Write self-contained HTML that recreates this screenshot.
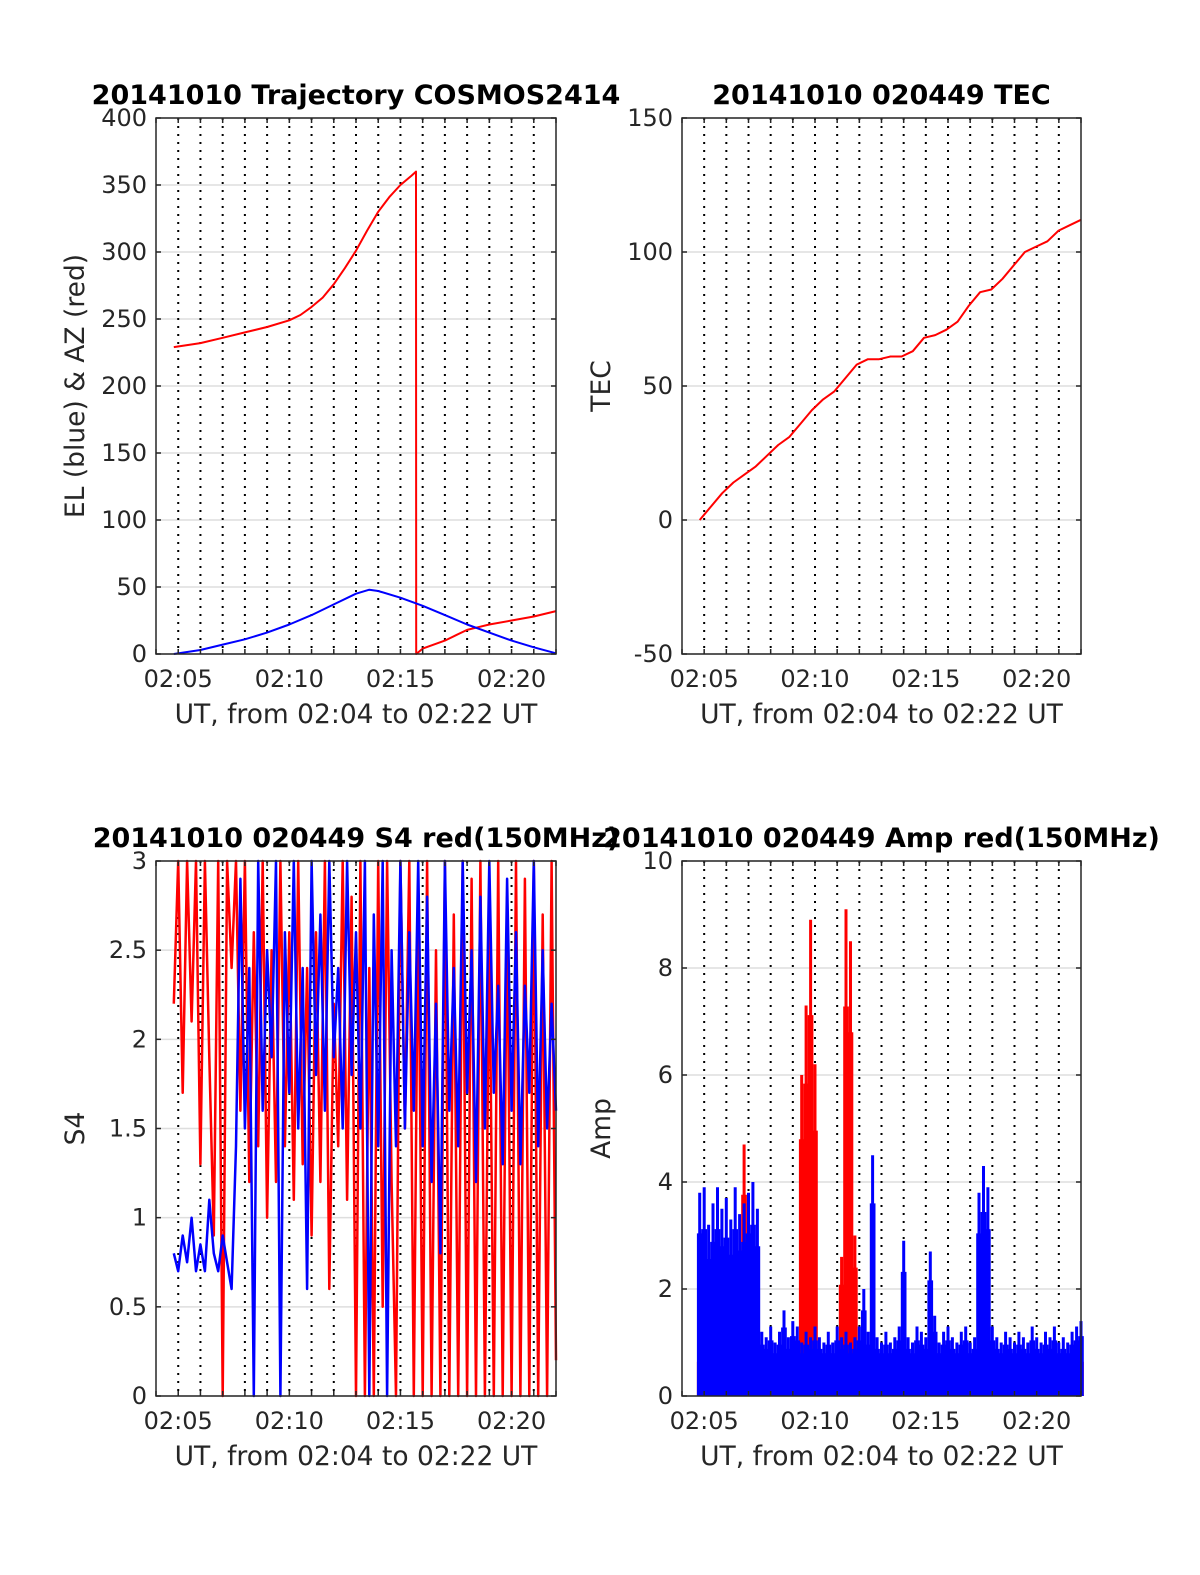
<!DOCTYPE html>
<html><head><meta charset="utf-8"><style>
body{margin:0;background:#fff}
svg{display:block;font-family:"DejaVu Sans","Liberation Sans",sans-serif}
</style></head><body>
<svg id="fig" width="1200" height="1575" viewBox="0 0 1200 1575"></svg>
<script>
// ---- data ----
const xTickLabels = ["02:05","02:10","02:15","02:20"];
const xTickMinutes = [5,10,15,20];
// plot 1
const azTimes = [4.8,6,7,8,9,10,10.5,11,11.5,12,12.5,13,13.5,14,14.5,15,15.5,15.7,15.71,16,16.5,17,17.5,18,18.5,19,20,21,22];
const azValues = [229,232,236,240,244,249,253,259,266,276,288,301,316,330,341,350,357,360,0,4,7,10,14,18,20,22,25,28,32];
const elTimes = [4.8,6,7,8,9,10,11,12,13,13.6,14,15,16,17,18,19,20,21,22];
const elValues = [0,3,7,11,16,22,29,37,45,48,47,42,36,29,22,16,10,5,0.5];
const p1YTicks = [0,50,100,150,200,250,300,350,400];
// plot 2
const tecValues = [0,5,10,14,17,20,24,28,31,36,41,45,48,53,58,60,60,61,61,63,68,69,71,74,80,85,86,90,95,100,102,104,108,110,112];
const p2YTicks = [-50,0,50,100,150];
// plot 3
const s4Red = [2.2,3,1.7,3,2.1,3, 1.3,3,1.9,0.9,3,0, 3,2.4,3,1.6,3, 1.2,2.6,1.4,3,1.0, 2.5,1.2,3,1.4,2.6, 1.1,3,1.3,2.4,0.9, 2.6,1.2,3,0.6,2.2, 1.4,3,1.1,2.8,0, 3,0,2.4,0,3, 0.5,3,1.2,0,3, 1.5,3,0,2.8,0, 3,0,2.5,0,3, 0,2.7,0,3,0, 2.9,0,3,0,2.6, 0,3,0,2.8,0, 3,0,2.9,0,3, 0,2.7,0,3,0.2];
const s4Blue = [0.8,0.7,0.9,0.75,1.0,0.7, 0.85,0.7,1.1,0.8,0.7,0.9, 0.75,0.6,1.4,2.9,1.5, 2.4,0,3,1.6,2.5, 1.9,3,0,2.6,1.7, 3,1.5,2.4,0.6,3, 1.8,2.7,1.6,3,1.9, 2.4,1.5,3,1.8,2.6, 1.5,3,0,2.7,1.4, 3,0,2.5,1.4,3, 1.5,2.6,1.6,3,1.4, 2.8,1.2,2.2,0.8,3, 1.6,2.4,1.4,3,1.7, 2.5,1.2,2.8,1.5,3, 1.7,2.3,1.3,2.9,1.6, 2.6,1.3,2.3,1.7,3, 1.4,2.5,1.5,2.2,1.6];
const p3YTicks = [0,0.5,1,1.5,2,2.5,3];
// plot 4
const ampBlue = [3.8,3.9,3.2,3.6,3.9,3.5, 3.7,3.3,3.9,3.4,3.6,3.8, 4.0,3.5,1.2,1.1,1.3, 1.0,1.2,1.6,1.1,1.4, 1.3,1.0,1.2,1.1,1.3, 1.1,1.0,1.2,1.0,1.3, 1.1,1.2,1.0,1.1,1.3, 2.0,1.2,4.5,1.1,1.0, 1.2,1.0,1.1,1.3,2.9, 1.1,1.0,1.3,1.2,1.1, 2.7,1.5,1.0,1.2,1.3, 1.1,1.0,1.2,1.3,1.0, 1.1,3.8,4.3,3.9,1.3, 1.1,1.0,1.2,1.1,1.0, 1.2,1.1,1.0,1.3,1.1, 1.0,1.2,1.1,1.3,1.0, 1.1,1.0,1.2,1.3,1.4];
const ampRed = [0.8,0.8,0.8,0.8,0.8,0.8, 0.8,0.8,0.8,0.8,4.7,0.8, 0.8,0.8,0.8,0.8,0.8, 0.8,0.8,0.8,0.8,0.8, 0.8,6.0,7.3,8.9,6.2, 0.8,0.8,0.8,0.8,0.8, 2.6,9.1,8.5,3.0,0.8, 0.8,0.8,0.8,0.8,0.8, 0.8,0.8,0.8,0.8,0.8, 0.8,0.8,0.8,0.8,0.8, 0.8,0.8,0.8,0.8,0.8, 0.8,0.8,0.8,0.8,0.8, 0.8,0.8,0.8,0.8,0.8, 0.8,0.8,0.8,0.8,0.8, 0.8,0.8,0.8,0.8,0.8, 0.8,0.8,0.8,0.8,0.8, 0.8,0.8,0.8,0.8,0.8];
const p4YTicks = [0,2,4,6,8,10];
const seriesStart = 4.8, seriesEnd = 22;

// ---- drawing ----
const NS="http://www.w3.org/2000/svg";
const svg=document.getElementById('fig');
function mk(tag,attrs,parent){const e=document.createElementNS(NS,tag);for(const k in attrs)e.setAttribute(k,attrs[k]);(parent||svg).appendChild(e);return e;}
function idxTimes(n){const a=[];for(let i=0;i<n;i++)a.push(seriesStart+i*(seriesEnd-seriesStart)/(n-1));return a;}

function axes(name,L,T,R,B,ymin,ymax,yticks,title,ylabel){
  const g=mk('g',{});
  
  
  const sx=m=>L+(m-4)/18*(R-L);
  const sy=v=>B-(v-ymin)/(ymax-ymin)*(B-T);
  yticks.forEach(v=>{
    const l=mk('line',{x1:L,x2:R,y1:sy(v),y2:sy(v),stroke:'#dedede','stroke-width':1.5},g);
    
    
  });
  for(let m=5;m<=21;m++){
    const l=mk('line',{x1:sx(m),x2:sx(m),y1:T,y2:B,stroke:'#000','stroke-width':2,'stroke-dasharray':'2 6'},g);
    
    
  }
  const plot=mk('g',{},g);
  
  
  const frame=mk('rect',{x:L,y:T,width:R-L,height:B-T,fill:'none',stroke:'#262626','stroke-width':1.5},g);
  
  
  yticks.forEach(v=>{
    mk('line',{x1:L,x2:L+5,y1:sy(v),y2:sy(v),stroke:'#262626','stroke-width':1.5},g);
    mk('line',{x1:R,x2:R-5,y1:sy(v),y2:sy(v),stroke:'#262626','stroke-width':1.5},g);
    const t=mk('text',{x:L-9,y:sy(v)+8,'text-anchor':'end','font-size':24,fill:'#262626'},g);
    t.textContent=String(v);
    
    
  });
  for(let m=4;m<=22;m++){
    mk('line',{x1:sx(m),x2:sx(m),y1:B,y2:B-5,stroke:'#262626','stroke-width':1.5},g);
    mk('line',{x1:sx(m),x2:sx(m),y1:T,y2:T+5,stroke:'#262626','stroke-width':1.5},g);
  }
  xTickLabels.forEach((lab,i)=>{
    const t=mk('text',{x:sx(xTickMinutes[i]),y:B+33,'text-anchor':'middle','font-size':24,fill:'#262626'},g);
    t.textContent=lab;
    
    
  });
  const xl=mk('text',{x:(L+R)/2,y:B+69,'text-anchor':'middle','font-size':26.5,fill:'#262626'},g);
  xl.textContent='UT, from 02:04 to 02:22 UT';
  
  
  const yl=mk('text',{x:0,y:0,'text-anchor':'middle','font-size':26.5,fill:'#262626',transform:`translate(${L-72},${(T+B)/2}) rotate(-90)`},g);
  yl.textContent=ylabel;
  
  
  const tt=mk('text',{x:(L+R)/2,y:T-14,'text-anchor':'middle','font-size':27,'font-weight':'bold',fill:'#000'},g);
  tt.textContent=title;
  
  
  return {g:plot,sx,sy,L,T,R,B};
}
function line(ax,times,vals,color,name,w){
  const pts=times.map((t,i)=>ax.sx(t).toFixed(1)+','+ax.sy(vals[i]).toFixed(1)).join(' ');
  const p=mk('polyline',{points:pts,fill:'none',stroke:color,'stroke-width':w||2,'stroke-linejoin':'round'},ax.g);
  
  
}
function bars(ax,vals,color,name){
  const ts=idxTimes(vals.length);let d='';
  ts.forEach((t,i)=>{const sub=[-0.06,0,0.06];sub.forEach(o=>{const xx=ax.sx(t+o);d+=`M${xx.toFixed(1)},${ax.sy(0)}L${xx.toFixed(1)},${ax.sy(vals[i]*(o===0?1:0.8)).toFixed(1)}`;});});
  const p=mk('path',{d:d,stroke:color,'stroke-width':3,fill:'none'},ax.g);
  
  
}

const a1=axes('trajectory-chart',156,118,556,654,0,400,p1YTicks,'20141010 Trajectory COSMOS2414','EL (blue) & AZ (red)');
line(a1,azTimes,azValues,'#ff0000','azimuth-line');
line(a1,elTimes,elValues,'#0000ff','elevation-line');

const a2=axes('tec-chart',682,118,1081,654,-50,150,p2YTicks,'20141010 020449 TEC','TEC');
line(a2,idxTimes(tecValues.length),tecValues,'#ff0000','tec-line');

const a3=axes('s4-chart',156,861,556,1396,0,3,p3YTicks,'20141010 020449 S4 red(150MHz)','S4');
line(a3,idxTimes(s4Red.length),s4Red,'#ff0000','s4-red-line',2.5);
line(a3,idxTimes(s4Blue.length),s4Blue,'#0000ff','s4-blue-line',2.5);

const a4=axes('amp-chart',682,861,1081,1396,0,10,p4YTicks,'20141010 020449 Amp red(150MHz)','Amp');
bars(a4,ampRed,'#ff0000','amp-red-series');
bars(a4,ampBlue,'#0000ff','amp-blue-series');
</script>
</body></html>
